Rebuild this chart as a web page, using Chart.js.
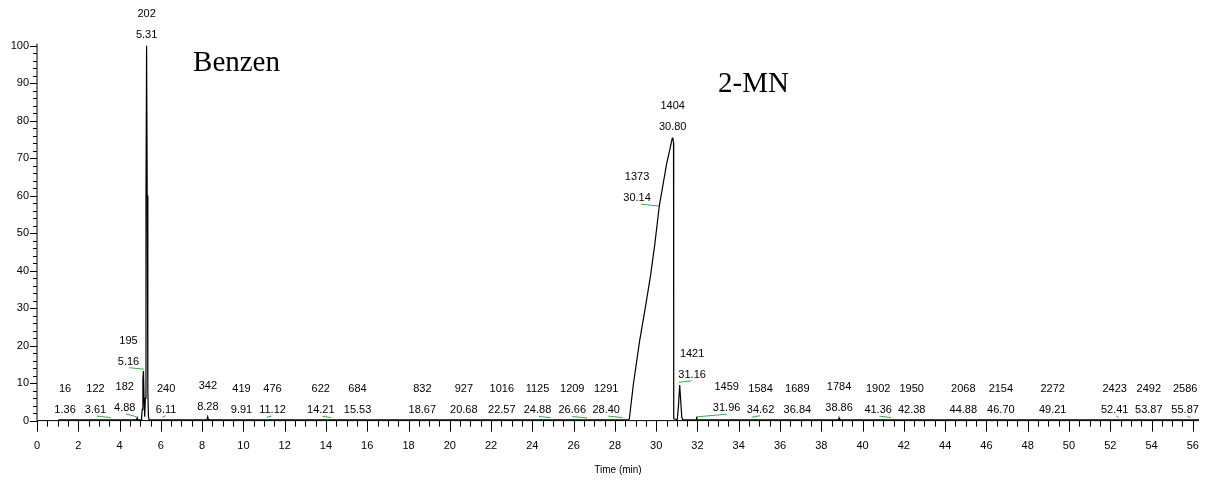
<!DOCTYPE html>
<html>
<head>
<meta charset="utf-8">
<script src="https://cdn.jsdelivr.net/npm/chart.js@4.4.0/dist/chart.umd.min.js"></script>
<style>
  body { margin: 0; background: #fff; }
  canvas { display: block; }
</style>
</head>
<body>
<canvas id="tic_graph" width="1207" height="481"></canvas>
<script>
// chromatogram trace (time in min, relative abundance)
const traceTime = [1.03, 4.80, 4.86, 4.90, 5.04, 5.07, 5.10, 5.13, 5.16, 5.19, 5.22, 5.25, 5.28, 5.31, 5.34, 5.37, 5.40, 5.44,
  8.22, 8.27, 8.32, 28.62, 28.70, 28.89, 29.19, 29.50, 29.73, 29.94, 30.15, 30.35, 30.51, 30.65, 30.78, 30.81, 30.84, 30.85,
  30.98, 31.02, 31.08, 31.14, 31.18, 31.24, 31.30, 31.93, 31.96, 31.99, 38.83, 38.86, 38.89, 56.30];
const traceValue = [0, 0, 0.7, 0, 0, 1.0, 3, 11, 13.2, 5, 1, 6, 60, 100, 60, 8, 1, 0,
  0, 1.0, 0, 0, 0.5, 9.5, 21, 31, 38.8, 47.3, 57.2, 63.5, 68.6, 72, 75.3, 75.4, 74, 0.5,
  0.3, 0, 4, 9.5, 6, 1, 0, 0, 1.0, 0, 0, 0.7, 0, 0];

// peak labels: retention time, scan number, apex level
const peakRT = [1.36, 3.61, 4.88, 5.16, 5.31, 6.11, 8.28, 9.91, 11.12, 14.21, 15.53, 18.67, 20.68, 22.57, 24.88, 26.66,
  28.40, 30.14, 30.80, 31.16, 31.96, 34.62, 36.84, 38.86, 41.36, 42.38, 44.88, 46.70, 49.21, 52.41, 53.87, 55.87];
const peakScan = [16, 122, 182, 195, 202, 240, 342, 419, 476, 622, 684, 832, 927, 1016, 1125, 1209,
  1291, 1373, 1404, 1421, 1459, 1584, 1689, 1784, 1902, 1950, 2068, 2154, 2272, 2423, 2492, 2586];
const peakApex = [0, 0, 0.5, 12.7, 100, 0, 0.6, 0, 0, 0, 0, 0, 0, 0, 0, 0,
  0, 56.5, 75.4, 9.2, 0.5, 0, 0, 0.5, 0, 0, 0, 0, 0, 0, 0, 0];

// integration baseline marks [t1, v1, t2, v2]
const baselineMarks = [
  [2.89, 1.2, 3.57, 0.8], [4.31, 1.8, 4.84, 1.0], [4.47, 14.1, 5.18, 13.7], [6.07, 0.9, 6.24, 1.3],
  [11.13, 0.9, 11.37, 1.2], [13.82, 1.2, 14.24, 0.8], [24.32, 1.1, 24.89, 0.8], [25.94, 1.1, 26.66, 0.7],
  [27.68, 1.2, 28.38, 0.8], [29.26, 57.7, 30.14, 57.2], [31.10, 10.2, 31.72, 10.6], [31.96, 1.0, 33.42, 1.7],
  [34.63, 0.9, 35.03, 1.3], [40.81, 1.2, 41.38, 0.8], [52.28, 1.3, 52.41, 0.8], [55.73, 1.2, 55.89, 0.8]
];

const compoundNames = ['Benzen', '2-MN'];
const xTicks = [0, 2, 4, 6, 8, 10, 12, 14, 16, 18, 20, 22, 24, 26, 28, 30, 32, 34, 36, 38, 40, 42, 44, 46, 48, 50, 52, 54, 56];
const yTicks = [0, 10, 20, 30, 40, 50, 60, 70, 80, 90, 100];

// label nudges in px (by scan number) so text sits like the original printout
const labelShift = { 122: -16, 182: -13, 195: -15, 240: 3, 476: 6, 622: -9.5, 1016: -1, 1125: -13, 1209: -15,
  1291: -17, 1373: -22, 1421: 12, 1459: 30, 1584: 9, 1902: -12.5, 2423: -4, 2586: -5 };

function traceData() {
  const pts = [];
  for (let i = 0; i < traceTime.length; i++) {
    pts.push({ x: traceTime[i], y: traceValue[i] });
  }
  return pts;
}

function markData() {
  const pts = [];
  baselineMarks.forEach(function(m) {
    pts.push({ x: m[0], y: m[1] });
    pts.push({ x: m[2], y: m[3] });
    pts.push({ x: m[2], y: null });
  });
  return pts;
}

const axisPlugin = {
  id: 'axisPlugin',
  beforeDatasetsDraw(chart) {
    const ctx = chart.ctx;
    const xs = chart.scales.x;
    const ys = chart.scales.y;
    const area = chart.chartArea;
    ctx.save();
    ctx.strokeStyle = '#000';
    ctx.lineWidth = 1;
    ctx.beginPath();
    ctx.moveTo(area.left, area.top - 2);
    ctx.lineTo(area.left, area.bottom);
    ctx.lineTo(area.right, area.bottom);
    // x ticks, major every 2 min, minor every 0.5
    for (let t = 0; t <= 56; t += 0.5) {
      const px = Math.round(xs.getPixelForValue(t)) + 0.5;
      const len = (t % 2 === 0) ? 11 : 6;
      ctx.moveTo(px, area.bottom);
      ctx.lineTo(px, area.bottom + len);
    }
    // y ticks, major every 10, minor every 2
    for (let v = 0; v <= 100; v += 2) {
      const py = Math.round(ys.getPixelForValue(v)) + 0.5;
      const len = (v % 10 === 0) ? 7 : 4;
      ctx.moveTo(area.left, py);
      ctx.lineTo(area.left - len, py);
    }
    ctx.stroke();
    ctx.restore();
  },
  afterDraw(chart) {
    const ctx = chart.ctx;
    const xs = chart.scales.x;
    const ys = chart.scales.y;
    ctx.save();
    ctx.fillStyle = '#000';
    ctx.font = '11px "Liberation Sans", Arial, sans-serif';
    ctx.textAlign = 'center';
    ctx.textBaseline = 'middle';
    for (let i = 0; i < peakRT.length; i++) {
      const px = xs.getPixelForValue(peakRT[i]) + (labelShift[peakScan[i]] || 0);
      const py = ys.getPixelForValue(peakApex[i]) - 11;
      ctx.fillText(peakRT[i].toFixed(2), px, py);
      ctx.fillText(String(peakScan[i]), px, py - 21);
    }
    ctx.font = '29px "Liberation Serif", "Times New Roman", serif';
    ctx.textAlign = 'left';
    ctx.textBaseline = 'alphabetic';
    ctx.fillText(compoundNames[0], xs.getPixelForValue(7.56), ys.getPixelForValue(93.3));
    ctx.fillText(compoundNames[1], xs.getPixelForValue(33.0), ys.getPixelForValue(87.6));
    ctx.restore();
  }
};

const ctx = document.getElementById('tic_graph').getContext('2d');
const myChart = new Chart(ctx, {
  type: 'line',
  data: {
    datasets: [{
        label: 'TIC',
        data: traceData(),
        borderColor: '#000',
        borderWidth: 1.2,
        segment: {
          // flat baseline prints heavier than the peaks
          borderWidth: function(c) { return (c.p0.parsed.y === 0 && c.p1.parsed.y === 0) ? 2.5 : 1.2; }
        },
        pointRadius: 0,
        tension: 0,
        fill: false
      }, {
        label: 'baseline',
        data: markData(),
        borderColor: '#3aaa45',
        borderWidth: 1,
        pointRadius: 0,
        spanGaps: false,
        fill: false
      }
    ]
  },
  plugins: [axisPlugin],
  options: {
    responsive: false,
    animation: false,
    layout: { padding: { top: 45.5, right: 8, left: 0, bottom: 0 } },
    plugins: { legend: { display: false }, tooltip: { enabled: false } },
    scales: {
      x: {
        type: 'linear',
        min: 0,
        max: 56.3,
        afterBuildTicks: function(scale) { scale.ticks = xTicks.map(function(v) { return { value: v }; }); },
        afterFit: function(scale) {
          scale.height = 60.4;
          scale.paddingLeft = 0;
          scale.paddingRight = 0;
        },
        grid: { display: false, drawTicks: false },
        border: { display: false },
        ticks: {
          padding: 18.5,
          maxRotation: 0,
          autoSkip: false,
          color: '#000',
          font: { family: '"Liberation Sans", Arial, sans-serif', size: 11 }
        },
        title: {
          display: true,
          text: 'Time (min)',
          color: '#000',
          padding: { top: 0, bottom: 4.3 },
          font: { family: '"Liberation Sans", Arial, sans-serif', size: 10 }
        }
      },
      y: {
        type: 'linear',
        min: 0,
        max: 100,
        afterBuildTicks: function(scale) { scale.ticks = yTicks.map(function(v) { return { value: v }; }); },
        afterFit: function(scale) {
          scale.width = 37;
          scale.paddingTop = 0;
          scale.paddingBottom = 0;
        },
        grid: { display: false, drawTicks: false },
        border: { display: false },
        ticks: {
          padding: 8,
          color: '#000',
          font: { family: '"Liberation Sans", Arial, sans-serif', size: 11 }
        }
      }
    }
  }
});
</script>
</body>
</html>
